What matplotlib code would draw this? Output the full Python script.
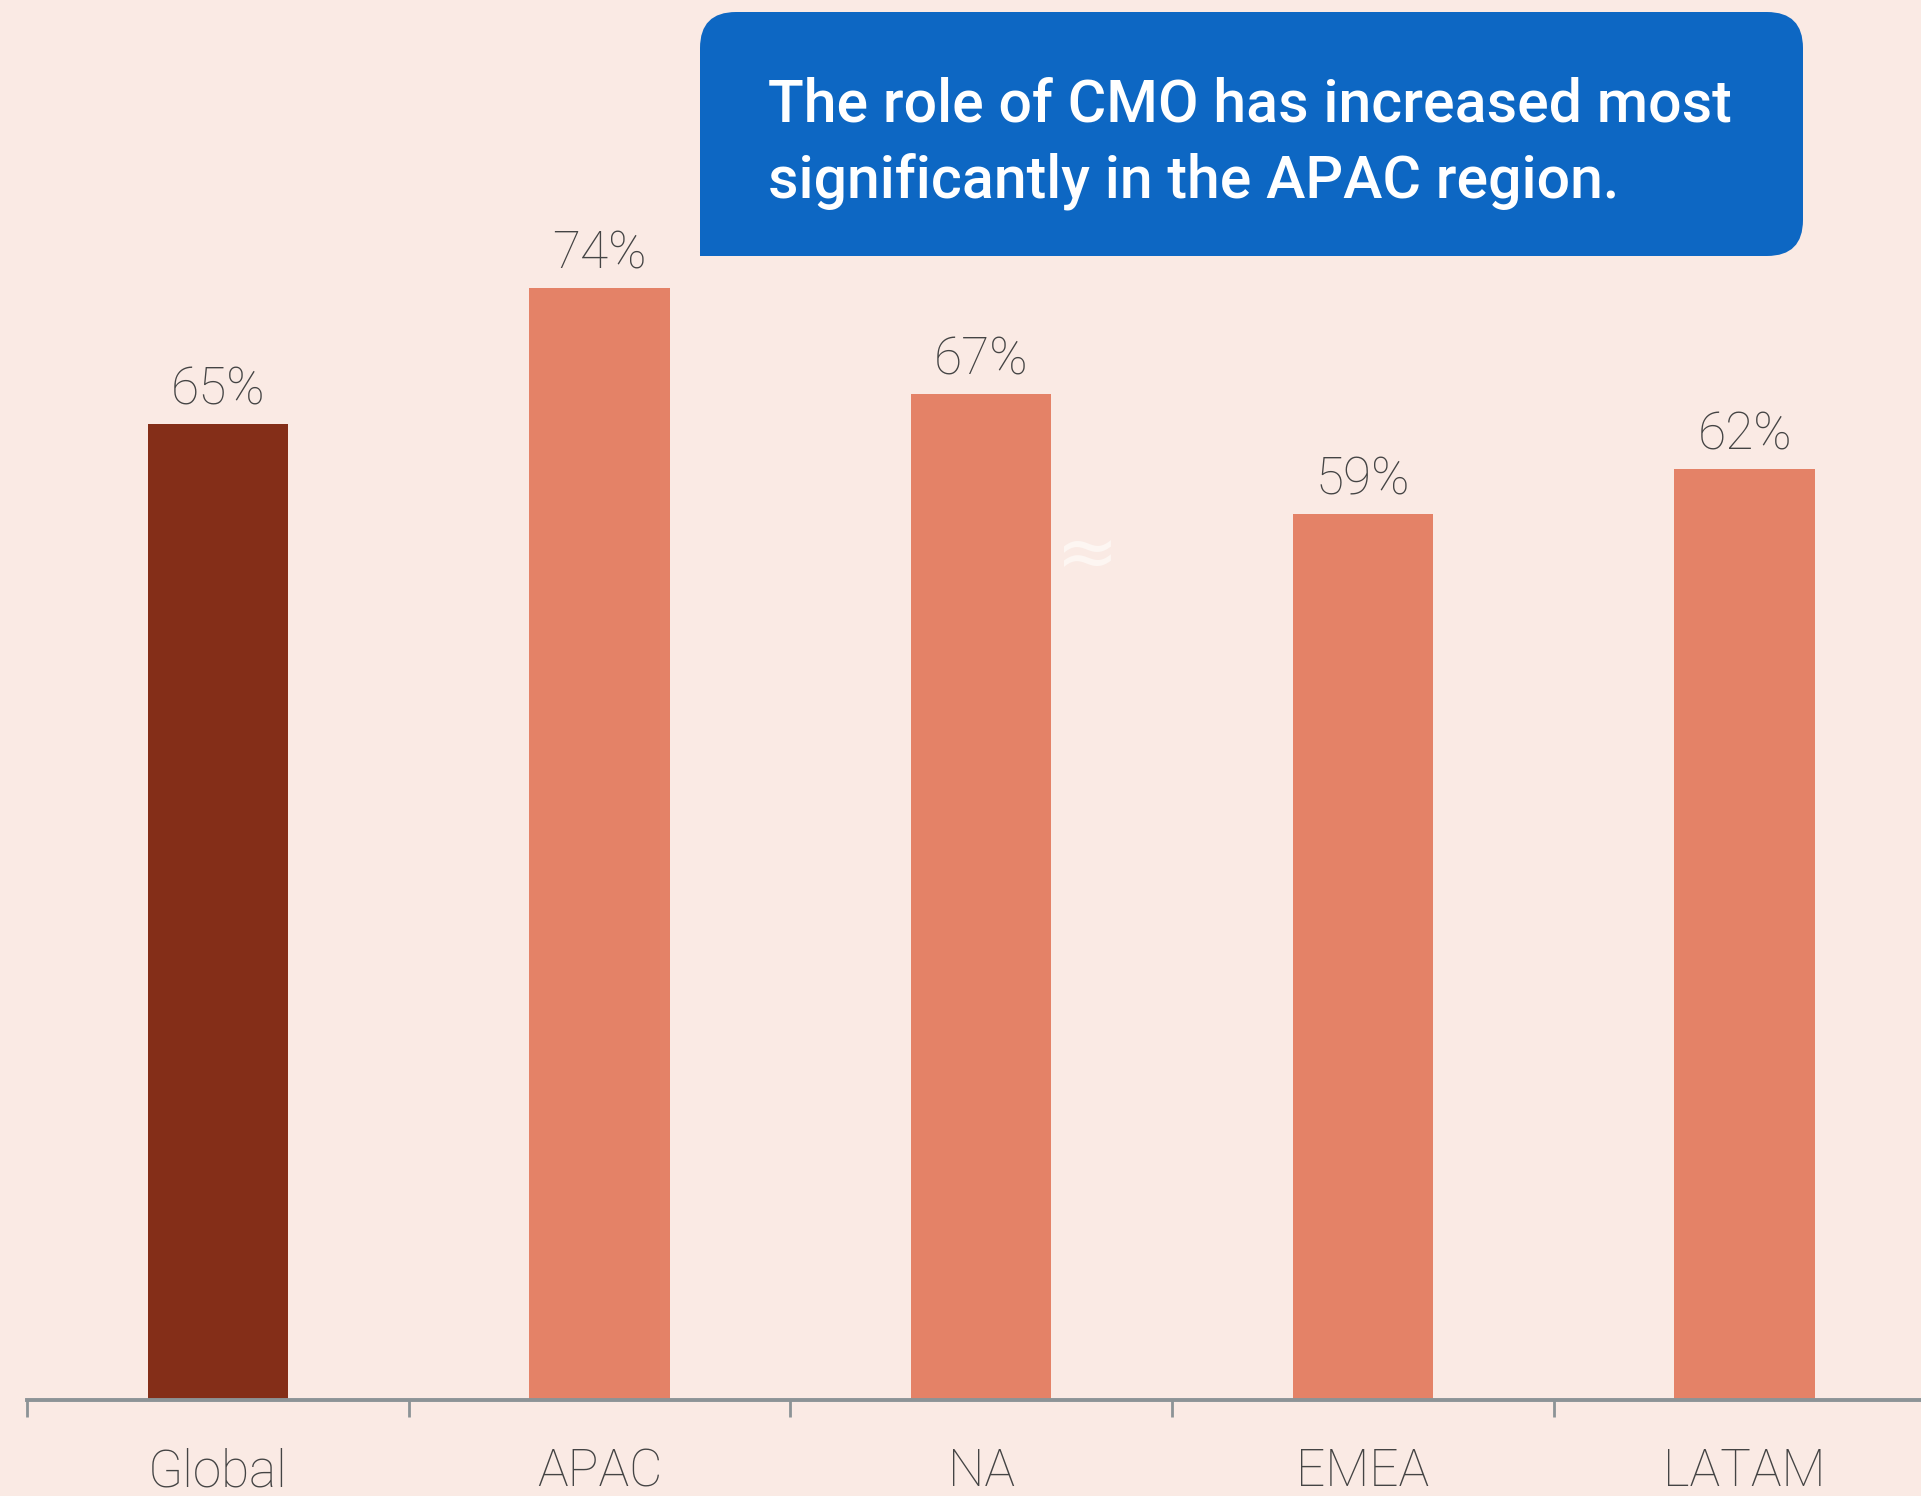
import matplotlib
matplotlib.use("Agg")
import matplotlib.pyplot as plt
from matplotlib.patches import FancyBboxPatch, Rectangle

regions = ["Global", "APAC", "NA", "EMEA", "LATAM"]
shares = [65, 74, 67, 59, 62]
value_labels = ["65%", "74%", "67%", "59%", "62%"]
callout = "The role of CMO has increased most\nsignificantly in the APAC region."

BG = "#FAEAE4"
DARK = "#842E18"
LIGHT = "#E48267"
AXIS = "#8C9396"
TXT = "#444444"
BLUE = "#0D67C3"
LABEL_FONT = "Roboto"

W, H = 1921, 1496
fig = plt.figure(figsize=(W / 100, H / 100), dpi=100)
fig.patch.set_facecolor(BG)
ax = fig.add_axes([27 / W, 96 / H, 1 - 27 / W, 1 - 96 / H])
ax.set_facecolor(BG)

colors = [DARK] + [LIGHT] * (len(regions) - 1)
x = list(range(len(regions)))
bars = ax.bar(x, shares, width=0.368, color=colors, zorder=2)

for b, lab in zip(bars, value_labels):
    ax.annotate(lab, (b.get_x() + b.get_width() / 2, b.get_height()),
                xytext=(0, 14), textcoords="offset points",
                ha="center", va="baseline", fontsize=37, color=TXT,
                family=LABEL_FONT, weight="light")

for s in ["top", "right", "left"]:
    ax.spines[s].set_visible(False)
ax.spines["bottom"].set_color(AXIS)
ax.spines["bottom"].set_linewidth(2.8)
ax.set_yticks([])
ax.set_xticks(x)
ax.set_xticklabels(regions)
ax.set_xticks([i - 0.5 for i in x], minor=True)
ax.tick_params(axis="x", which="major", length=0, pad=34)
ax.tick_params(axis="x", which="minor", length=12, width=2, color=AXIS)
for t in ax.get_xticklabels():
    t.set_fontsize(37)
    t.set_color(TXT)
    t.set_family(LABEL_FONT)
    t.set_weight("light")
ax.set_xlim(-0.5, 4.462)
ax.set_ylim(0, 93.2)

# callout box (pixel coords from top-left)
bx0, bx1, by0, by1 = 700, 1803, 12, 256
r = 36
box = FancyBboxPatch((bx0 / W, 1 - by1 / H), (bx1 - bx0) / W, (by1 - by0) / H,
                     boxstyle=f"round,pad=0,rounding_size={r / W}",
                     transform=fig.transFigure, facecolor=BLUE, edgecolor="none",
                     mutation_aspect=W / H, zorder=5)
fig.add_artist(box)
fig.add_artist(Rectangle((bx0 / W, 1 - by1 / H), 154 / W, 60 / H,
                         transform=fig.transFigure, facecolor=BLUE,
                         edgecolor="none", zorder=5))
lines = callout.split("\n")
fig.text(768 / W, 1 - 122 / H, lines[0], color="white",
         fontsize=42.5, family="Roboto", weight="medium", va="baseline", zorder=6)
fig.text(768 / W, 1 - 198 / H, lines[1], color="white",
         fontsize=42.5, family="Roboto", weight="medium", va="baseline", zorder=6)

fig.text(1086 / W, 1 - 557 / H, "\u2248", color="#FDF6F2", fontsize=54,
         ha="center", va="center")

fig.savefig("out.png", dpi=100, facecolor=BG)
